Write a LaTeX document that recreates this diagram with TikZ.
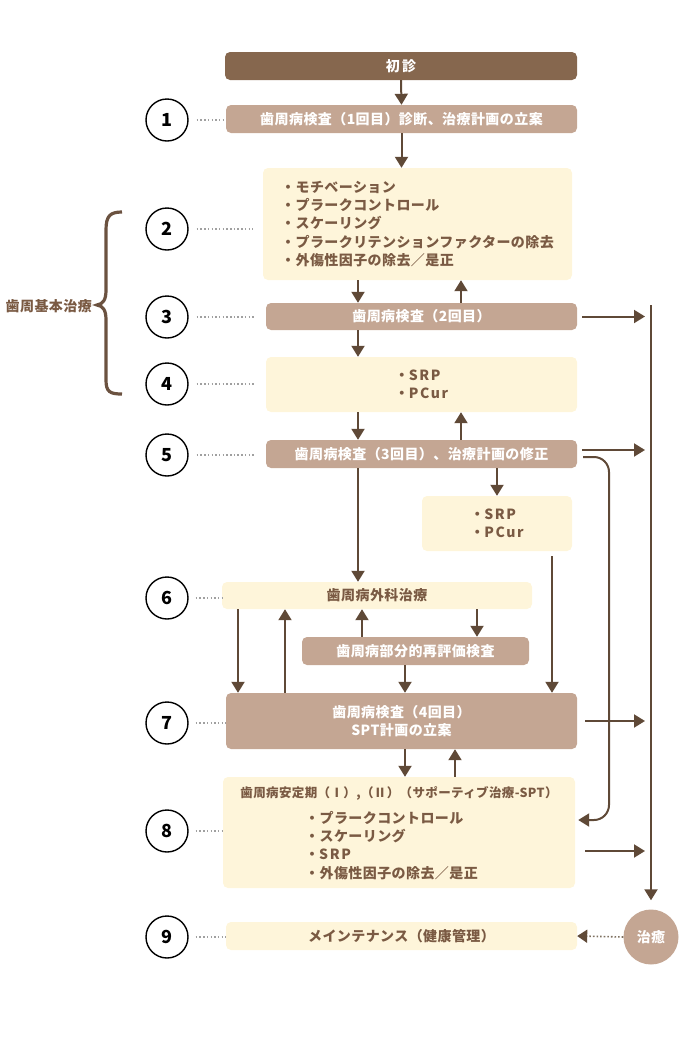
\documentclass[tikz,border=0pt]{standalone}
\usepackage{fontspec}
\newfontfamily\jp[LetterSpace=3]{Noto Sans CJK JP}
\newcommand{\lat}[1]{{\addfontfeature{LetterSpace=12}#1}}
\usetikzlibrary{arrows.meta,calc}
\definecolor{dark}{HTML}{86674E}
\definecolor{mid}{HTML}{C4A693}
\definecolor{cream}{HTML}{FEF5DA}
\definecolor{arrowc}{HTML}{5F4937}
\definecolor{txt}{HTML}{7A5A43}
\definecolor{dotc}{HTML}{A0A0A0}
\definecolor{dotd}{HTML}{7E7060}
\definecolor{bracec}{HTML}{6B5240}
\begin{document}
\begin{tikzpicture}[x=1pt,y=-1pt,
 box/.style={rounded corners=5pt, inner sep=0pt, font=\jp\bfseries\fontsize{14}{18.3}\selectfont},
 darkbox/.style={box, fill=dark, text=white},
 midbox/.style={box, fill=mid, text=white},
 creambox/.style={box, fill=cream, text=txt},
 plain/.style={inner sep=0pt, text=txt, font=\jp\bfseries\fontsize{14}{18.3}\selectfont},
 num/.style={circle, draw=black, line width=1.4pt, minimum size=42pt, inner sep=0pt, font=\jp\bfseries\fontsize{18}{18}\selectfont},
 arr/.style={draw=arrowc, line width=2pt, -{Triangle[length=11pt,width=13pt]}},
 dots/.style={draw=dotc, line width=1.5pt, dash pattern=on 1.5pt off 2.2pt},
]
\useasboundingbox (0,0) rectangle (680,1042);

% boxes
\node[darkbox, minimum width=352pt, minimum height=28pt] (b0) at (401,66) {初\,診};
\node[midbox, minimum width=351pt, minimum height=28pt] (b1) at (401.5,119) {歯周病検査（1回目）診断、治療計画の立案};
\node[creambox, minimum width=309pt, minimum height=112pt, align=left] (b2) at (417.5,224)
 {・モチベーション\\・プラークコントロール\\・スケーリング\\・プラークリテンションファクターの除去\\・外傷性因子の除去／是正};
\node[midbox, minimum width=311pt, minimum height=27pt] (b3) at (421.5,316.5) {歯周病検査（2回目）};
\node[creambox, minimum width=311pt, minimum height=55pt, align=left] (b4) at (421.5,384.5) {・\lat{SRP}\\・\lat{PCur}};
\node[midbox, minimum width=311pt, minimum height=28pt] (b5) at (421.5,454) {歯周病検査（3回目）、治療計画の修正};
\node[creambox, minimum width=150pt, minimum height=55pt, align=left] (b5b) at (497,523.5) {・\lat{SRP}\\・\lat{PCur}};
\node[creambox, minimum width=310pt, minimum height=27pt] (b6) at (377,595.5) {歯周病外科治療};
\node[midbox, minimum width=227pt, minimum height=28pt] (b6b) at (415.5,651) {歯周病部分的再評価検査};
\node[midbox, minimum width=351pt, minimum height=56pt, align=center] (b7) at (401.5,721) {歯周病検査（4回目）\\SPT計画の立案};
\node[creambox, minimum width=352pt, minimum height=111pt] (b8) at (399,832.5) {};
\node[plain, font=\jp\bfseries\fontsize{12.5}{16}\selectfont] (b8t) at (399,793) {歯周病安定期（Ⅰ）,（Ⅱ）（サポーティブ治療-SPT）};
\node[plain, anchor=west, align=left] (b8l) at (305,845.5) {・プラークコントロール\\・スケーリング\\・\lat{SRP}\\・外傷性因子の除去／是正};
\node[creambox, minimum width=351pt, minimum height=28pt] (b9) at (401.5,936) {メインテナンス（健康管理）};
\node[circle, fill=mid, minimum size=55pt, inner sep=0pt, text=white, font=\jp\bfseries\fontsize{14}{14}\selectfont] (cure) at (651,937) {治癒};

% numbers
\node[num] (n1) at (167,120) {1};
\node[num] (n2) at (167,229) {2};
\node[num] (n3) at (167,317) {3};
\node[num] (n4) at (167,384) {4};
\node[num] (n5) at (167,455) {5};
\node[num] (n6) at (167,598) {6};
\node[num] (n7) at (167,723) {7};
\node[num] (n8) at (167,831) {8};
\node[num] (n9) at (167,937) {9};

\draw[dots, shorten <=8pt] (n1.east) -- (n1.east -| b1.west);
\draw[dots, shorten <=8pt, shorten >=10pt] (n2.east) -- (n2.east -| b2.west);
\draw[dots, shorten <=8pt, shorten >=10pt] (n3.east) -- (n3.east -| b3.west);
\draw[dots, shorten <=8pt, shorten >=10pt] (n4.east) -- (n4.east -| b4.west);
\draw[dots, shorten <=8pt, shorten >=10pt] (n5.east) -- (n5.east -| b5.west);
\draw[dots, shorten <=7pt] (n6.east) -- (n6.east -| b6.west);
\draw[dots, shorten <=7pt] (n7.east) -- (n7.east -| b7.west);
\draw[dots, shorten <=7pt] (n8.east) -- (n8.east -| b8.west);
\draw[dots, shorten <=7pt] (n9.east) -- (n9.east -| b9.west);

% brace and label
\draw[bracec, line width=3.2pt] (122,212) .. controls (110,212) and (106,216) .. (106,230) -- (106,290)
  .. controls (106,300) and (103,304) .. (97,305) .. controls (103,306) and (106,310) .. (106,320)
  -- (106,380) .. controls (106,392) and (110,394) .. (122,394);
\node[plain, anchor=east] (lab) at (92,306) {歯周基本治療};

% column x positions
\coordinate (xa) at (358,0);
\coordinate (xb) at (461,0);
\coordinate (xc) at (552,0);
\coordinate (xd) at (238,0);
\coordinate (xe) at (285,0);
\coordinate (xf) at (362,0);
\coordinate (xg) at (477,0);
\coordinate (xh) at (405,0);
\coordinate (xi) at (455,0);
\coordinate (cx) at (609,0);

% vertical arrows
\draw[arr] (b0.south) -- (b1.north);
\draw[arr] (b1.south) -- (b1.south |- b2.north);
\draw[arr] (b2.south -| xa) -- (b3.north -| xa);
\draw[arr] (b3.north -| xb) -- (b2.south -| xb);
\draw[arr] (b3.south -| xa) -- (b4.north -| xa);
\draw[arr] (b4.south -| xa) -- (b5.north -| xa);
\draw[arr] (b5.north -| xb) -- (b4.south -| xb);
\draw[arr] (b5.south -| xa) -- (b6.north -| xa);
\draw[arr] (b5.south -| b5b.north) -- (b5b.north);
\draw[arr, shorten <=5pt] (b5b.south -| xc) -- (b7.north -| xc);
\draw[arr] (b6.south -| xd) -- (b7.north -| xd);
\draw[arr] (b7.north -| xe) -- (b6.south -| xe);
\draw[arr] (b6b.north -| xf) -- (b6.south -| xf);
\draw[arr] (b6.south -| xg) -- (b6b.north -| xg);
\draw[arr] (b6b.south -| xh) -- (b7.north -| xh);
\draw[arr] (b7.south -| xh) -- (b8.north -| xh);
\draw[arr] (b8.north -| xi) -- (b7.south -| xi);

% right column
\coordinate (colt) at (651,305);
\draw[arr, shorten >=9pt] (colt) -- (cure.north);
\coordinate (b5r) at ($(b5.east)+(0,-4)$);
\coordinate (b8r) at ($(b8.east)+(0,18.5)$);
\draw[arr, shorten <=5pt, shorten >=6pt] (b3.east) -- (b3.east -| colt);
\draw[arr, shorten <=5pt, shorten >=6pt] (b5r) -- (b5r -| colt);
\draw[arr, shorten <=8pt, shorten >=6pt] (b7.east) -- (b7.east -| colt);
\draw[arr, shorten <=10pt, shorten >=6pt] (b8r) -- (b8r -| colt);

% curve from b5 to b8
\coordinate (c1) at ($(b5.east)+(6,3)$);
\coordinate (c2) at ($(b8.east)+(3,-12.5)$);
\draw[arr, rounded corners=15pt] (c1) -- (c1 -| cx) -- (c2 -| cx) -- (c2);

% cure to maintenance
\draw[draw=dotd, line width=1.6pt, dash pattern=on 1.6pt off 2pt, -{Triangle[length=10pt,width=13pt,color=arrowc,fill=arrowc]}] (cure.west) -- (b9.east);
\end{tikzpicture}
\end{document}
